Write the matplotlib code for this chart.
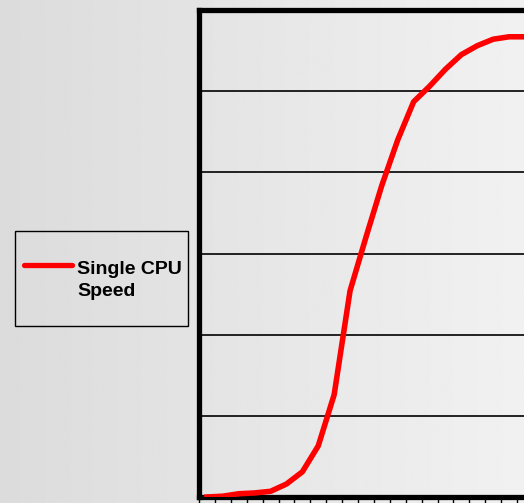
import numpy as np
import matplotlib.pyplot as plt
from matplotlib.lines import Line2D
from matplotlib.patches import Rectangle

# category positions (years, unlabeled in the chart) and relative CPU speed
periods = list(range(21))
cpu_speed = [0.0, 0.01, 0.04, 0.05, 0.07, 0.16, 0.31, 0.63, 1.26, 2.54, 3.2,
             3.84, 4.4, 4.87, 5.06, 5.27, 5.45, 5.56, 5.64, 5.67, 5.67]
grid_levels = [1, 2, 3, 4, 5]
legend_label = ['Single CPU', 'Speed']

W, H = 524, 503
fig = plt.figure(figsize=(W / 100, H / 100), dpi=100)

# soft gray gradient background
bg = fig.add_axes([0, 0, 1, 1], zorder=-10)
grad = np.linspace(0.86, 0.945, 256).reshape(1, -1)
bg.imshow(grad, cmap='gray', vmin=0, vmax=1, aspect='auto', extent=[0, 1, 0, 1])
bg.set_xlim(0, 1)
bg.set_ylim(0, 1)
bg.axis('off')

left = 199 / W
bottom = (H - 497) / H
top = (H - 10) / H
right_px = 560
ax = fig.add_axes([left, bottom, (right_px - 199) / W, top - bottom])
ax.patch.set_alpha(0)
step = 15.9

for g in grid_levels:
    ax.axhline(g, color='black', lw=1.2, zorder=1)

ax.plot(periods, cpu_speed, color='#ff0000', lw=4, zorder=3,
        solid_joinstyle='round')

for s in ['left', 'top', 'bottom']:
    ax.spines[s].set_linewidth(3.8)
    ax.spines[s].set_color('black')
ax.spines['right'].set_visible(False)

ax.set_xticks(np.arange(-0.5, 30, 1))
ax.set_xticklabels([])
ax.tick_params(axis='x', direction='out', length=5, width=1, color='black')
ax.set_yticks([])
ax.set_xlim(-0.5, -0.5 + (right_px - 199) / step)
ax.set_ylim(0, 6)

# legend box drawn by hand to match the original layout
fx = lambda px: px / W
fy = lambda py: (H - py) / H
fig.patches.append(Rectangle((fx(15), fy(326)), fx(188) - fx(15), fy(231) - fy(326),
                             transform=fig.transFigure, fill=False,
                             edgecolor='black', lw=1))
fig.lines.append(Line2D([fx(24), fx(72)], [fy(265), fy(265)], transform=fig.transFigure,
                        color='#ff0000', lw=3.8, solid_capstyle='round'))
for i, txt in enumerate(legend_label):
    fig.text(fx(77), fy(274 + 22 * i), txt, va='baseline', ha='left',
             family='Liberation Sans', weight='bold', size=14)

plt.savefig('out.png', dpi=100)
